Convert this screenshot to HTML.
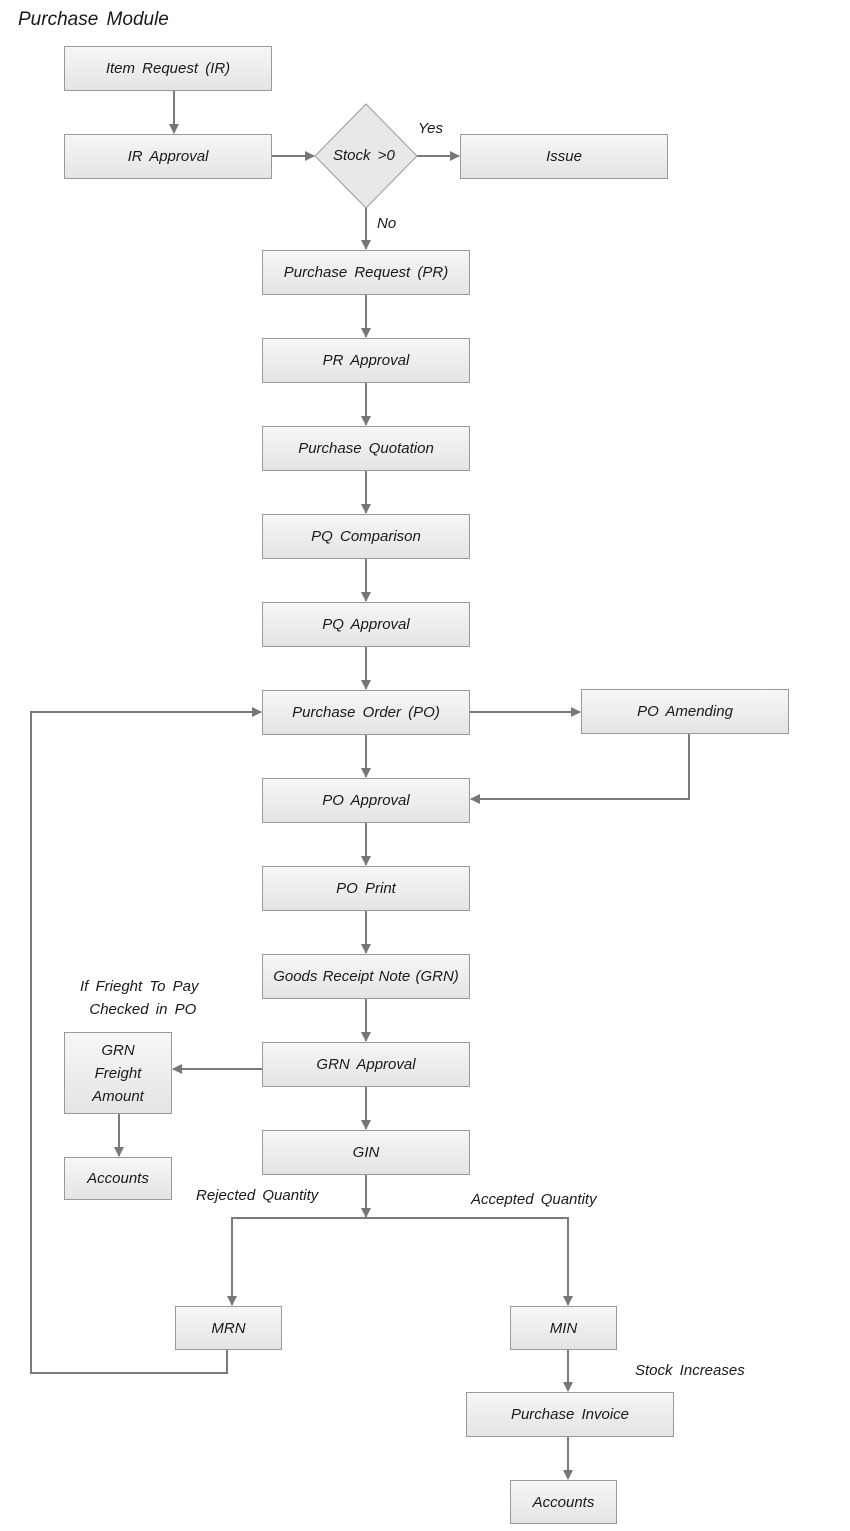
<!DOCTYPE html>
<html><head><meta charset="utf-8"><style>
body{margin:0;width:850px;height:1531px;background:#fff;position:relative;overflow:hidden;font-family:"Liberation Sans",sans-serif;font-style:italic;color:#1a1a1a}
.b{position:absolute;box-sizing:border-box;border:1px solid #999;background:linear-gradient(#f7f7f7,#e4e4e4);display:flex;align-items:center;justify-content:center;text-align:center;font-size:15px;word-spacing:3px;line-height:23px}
.t{position:absolute;font-size:15px;word-spacing:3px;white-space:nowrap}
svg{position:absolute;left:0;top:0}
</style></head><body>
<div class="t" style="left:18px;top:9px;font-size:19px">Purchase Module</div>
<svg width="850" height="1531">
<defs><marker id="a" markerWidth="10" markerHeight="10" refX="9" refY="5" orient="auto" markerUnits="userSpaceOnUse"><path d="M0,0L10,5L0,10z" fill="#777"/></marker></defs>
<g stroke="#7a7a7a" stroke-width="2" fill="none" marker-end="url(#a)">
<path d="M174 91V133"/>
<path d="M272 156H314"/>
<path d="M417 156H459"/>
<path d="M366 208V249"/>
<path d="M366 295V337"/><path d="M366 383V425"/><path d="M366 471V513"/><path d="M366 559V601"/><path d="M366 647V689"/>
<path d="M470 712H580"/>
<path d="M366 735V777"/><path d="M366 823V865"/><path d="M366 911V953"/><path d="M366 999V1041"/><path d="M366 1087V1129"/>
<path d="M689 734V799H471"/>
<path d="M262 1069H173"/>
<path d="M119 1114V1156"/>
<path d="M366 1175V1217"/>
<path d="M366 1218H232V1305"/>
<path d="M366 1218H568V1305"/>
<path d="M568 1350V1391"/>
<path d="M568 1437V1479"/>
<path d="M227 1350V1373H31V712H261"/>
</g>
<polygon points="366,104 417,156 366,208 315,156" fill="#e8e8e8" stroke="#999"/>
</svg>
<div class="t" style="left:333px;top:147px">Stock &gt;0</div>
<div class="t" style="left:418px;top:120px">Yes</div>
<div class="t" style="left:377px;top:215px">No</div>
<div class="b" style="left:64px;top:46px;width:208px;height:45px">Item Request (IR)</div>
<div class="b" style="left:64px;top:134px;width:208px;height:45px">IR Approval</div>
<div class="b" style="left:460px;top:134px;width:208px;height:45px">Issue</div>
<div class="b" style="left:262px;top:250px;width:208px;height:45px">Purchase Request (PR)</div>
<div class="b" style="left:262px;top:338px;width:208px;height:45px">PR Approval</div>
<div class="b" style="left:262px;top:426px;width:208px;height:45px">Purchase Quotation</div>
<div class="b" style="left:262px;top:514px;width:208px;height:45px">PQ Comparison</div>
<div class="b" style="left:262px;top:602px;width:208px;height:45px">PQ Approval</div>
<div class="b" style="left:262px;top:690px;width:208px;height:45px">Purchase Order (PO)</div>
<div class="b" style="left:581px;top:689px;width:208px;height:45px">PO Amending</div>
<div class="b" style="left:262px;top:778px;width:208px;height:45px">PO Approval</div>
<div class="b" style="left:262px;top:866px;width:208px;height:45px">PO Print</div>
<div class="b" style="left:262px;top:954px;width:208px;height:45px;word-spacing:1px">Goods Receipt Note (GRN)</div>
<div class="t" style="left:80px;top:975px;text-align:center;line-height:23px">If Frieght To Pay<br>&nbsp;Checked in PO</div>
<div class="b" style="left:262px;top:1042px;width:208px;height:45px">GRN Approval</div>
<div class="b" style="left:64px;top:1032px;width:108px;height:82px">GRN<br>Freight<br>Amount</div>
<div class="b" style="left:64px;top:1157px;width:108px;height:43px">Accounts</div>
<div class="b" style="left:262px;top:1130px;width:208px;height:45px">GIN</div>
<div class="t" style="left:196px;top:1187px">Rejected Quantity</div>
<div class="t" style="left:471px;top:1191px">Accepted Quantity</div>
<div class="b" style="left:175px;top:1306px;width:107px;height:44px">MRN</div>
<div class="b" style="left:510px;top:1306px;width:107px;height:44px">MIN</div>
<div class="t" style="left:635px;top:1362px">Stock Increases</div>
<div class="b" style="left:466px;top:1392px;width:208px;height:45px">Purchase Invoice</div>
<div class="b" style="left:510px;top:1480px;width:107px;height:44px">Accounts</div>
</body></html>
